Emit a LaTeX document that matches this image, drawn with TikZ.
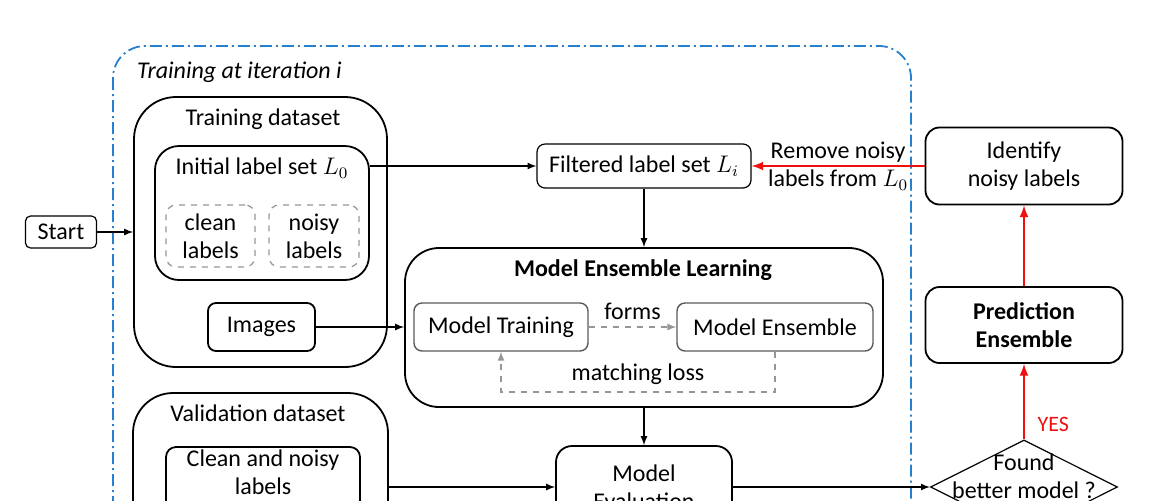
\documentclass[tikz,border=0pt]{standalone}
\usepackage{fontspec}
\setmainfont{Carlito}
\usepackage{tikz}
\usetikzlibrary{calc}
\usetikzlibrary{shapes.geometric}

\definecolor{iterblue}{RGB}{38,128,206}
\definecolor{boxgray}{RGB}{90,90,90}
\definecolor{dashgray}{RGB}{150,150,150}
\definecolor{arrowred}{RGB}{240,15,15}

\tikzset{
  box/.style={draw,line width=0.9pt,rounded corners=#1,inner sep=0pt,align=center},
  box/.default=4pt,
  graybox/.style={draw=boxgray,line width=0.7pt,rounded corners=4pt,inner sep=0pt,align=center},
  dashbox/.style={draw=dashgray,dashed,line width=0.6pt,rounded corners=5pt,inner sep=0pt,align=center},
  conn/.style={->,line width=0.55pt},
  redconn/.style={->,line width=1pt,color=arrowred}
}

\begin{document}
\begin{tikzpicture}[>=latex,x=0.5pt,y=-0.5pt,font=\fontsize{12}{14}\selectfont]
    \useasboundingbox (0,0) rectangle (1156,500);
    % iteration frame
    \draw[iterblue,line width=0.9pt,rounded corners=16pt,dash pattern=on 6pt off 2pt on 1pt off 2pt]
    (113,46) rectangle (911,640);
    \node[anchor=west,font=\fontsize{12}{14}\selectfont\itshape] (iter) at (130,72) {Training at iteration i};

    \node[box=2.5pt,line width=0.6pt,minimum width=35.5pt,minimum height=16pt] (start) at (61,232) {Start};

    % training data
    \node[box=21pt,minimum width=126.5pt,minimum height=135pt] (train) at (260.5,232) {};
    \node (traintitle) at (263,119) {Training dataset};
    \node[box=12pt,minimum width=107pt,minimum height=67pt] (init) at (262,213) {};
    \node (inittitle) at (262,168) {Initial label set $L_0$};
    \node[dashbox,minimum width=44.5pt,minimum height=31pt] (clean) at (210.5,236) {clean\\labels};
    \node[dashbox,minimum width=45pt,minimum height=31pt] (noisy) at (314,236) {noisy\\labels};
    \node[box=4pt,minimum width=53.5pt,minimum height=24pt] (images) at (261.5,327) {Images};

    % validation data
    \node[box=20pt,minimum width=127.5pt,minimum height=110pt] (valid) at (260.5,503) {};
    \node (validtitle) at (258,413) {Validation dataset};
    \node[box=5pt,minimum width=97pt,minimum height=40pt,
      label={[align=center,yshift=7.5pt]center:Clean and noisy\\labels}] (cleannoisy) at (263,487) {};

    % ensemble learning
    \node[box=4pt,line width=0.6pt,minimum width=107pt,minimum height=22pt] (filtered) at (644,166) {Filtered label set $L_i$};
    \node[box=17pt,minimum width=239pt,minimum height=79.5pt] (mel) at (644,327.5) {};
    \node[font=\fontsize{12}{14}\selectfont\bfseries] (meltitle) at (643,270) {Model Ensemble Learning};
    \node[graybox,minimum width=87pt,minimum height=24pt] (mtrain) at (501,327) {Model Training};
    \node[graybox,minimum width=98pt,minimum height=24pt] (mens) at (775,327) {Model Ensemble};
    \coordinate (loopbot) at (0,392);
    \node[box=8pt,minimum width=88pt,minimum height=41pt] (evaluation) at (644,487) {Model\\Evaluation};

    % outside the iteration
    \node[box=7pt,minimum width=98.5pt,minimum height=38.5pt] (identify) at (1024,166) {Identify\\noisy labels};
    \node[box=7pt,minimum width=98.5pt,minimum height=38pt,font=\fontsize{12}{14}\selectfont\bfseries] (pred) at (1024,325) {Prediction\\Ensemble};
    \node[draw,diamond,line width=0.6pt,inner sep=0pt,minimum width=93.5pt,minimum height=47pt,
      label={[align=center,yshift=5.5pt]center:Found\\better model ?}] (found) at (1024,487) {};

    \draw[conn] (start) -- (train);
    \draw[conn] (init.east |- filtered) -- (filtered);
    \draw[conn] (images) -- (images -| mel.west);
    \draw[conn] (filtered) -- (mel);
    \draw[conn,dashgray,dashed] (mtrain) -- node[above,text=black]{forms} (mens);
    \draw[conn,dashgray,dashed] (mens.south) -- (mens.south |- loopbot)
      -- node[above,text=black]{matching loss} (mtrain.south |- loopbot) -- (mtrain.south);
    \draw[conn] (mel) -- (evaluation);
    \draw[conn] (valid.east |- evaluation) -- (evaluation);
    \draw[conn] (evaluation) -- (found);
    \draw[redconn] (found) -- node[right,pos=0.2,xshift=3pt,font=\fontsize{11}{13}\selectfont]{YES} (pred);
    \draw[redconn] (pred) -- (identify);
    \draw[redconn] (identify) -- node[align=center,text=black]{Remove noisy\\labels from $L_0$} (filtered);
\end{tikzpicture}
\end{document}
